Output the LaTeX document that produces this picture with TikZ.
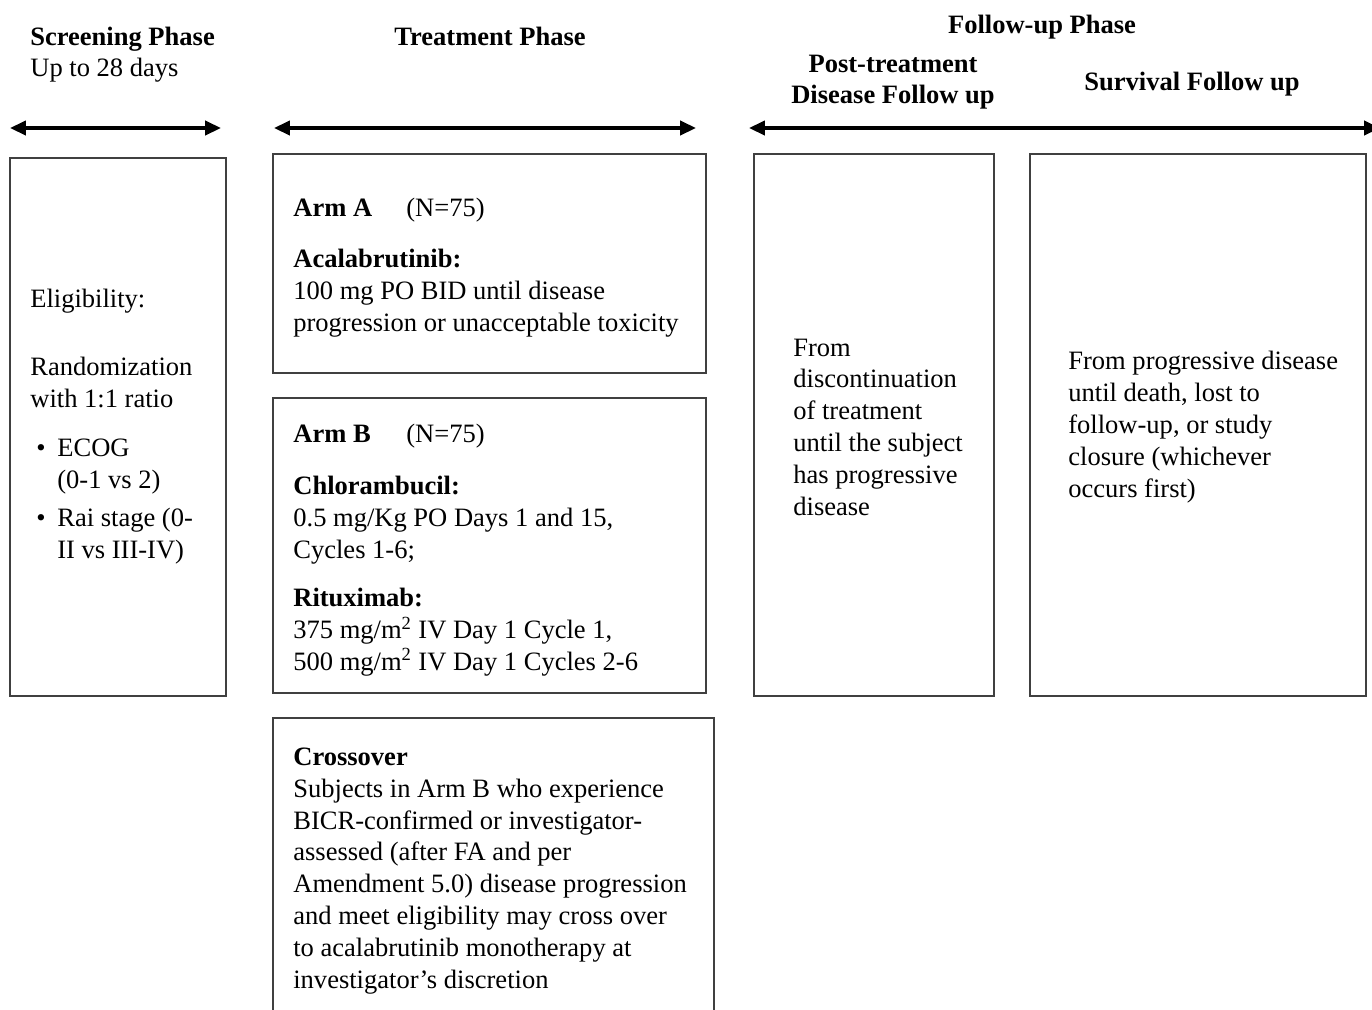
\documentclass[tikz,border=0pt]{standalone}
\usepackage{fontspec}
\setmainfont{Liberation Serif}
\usetikzlibrary{arrows.meta}
\tikzset{
  txt/.style={font=\fontsize{15.1}{18.1}\selectfont, align=left, anchor=base west, inner sep=0pt},
  hd/.style={font=\fontsize{15.1}{17.2}\selectfont\bfseries, align=center, anchor=base, inner sep=0pt},
  box/.style={draw=black!75, line width=0.8pt},
  span/.style={line width=1.9pt, {Triangle[length=9pt,width=8pt]}-{Triangle[length=9pt,width=8pt]}},
}

\begin{document}
\begin{tikzpicture}[x=0.02cm, y=-0.02cm]
  \useasboundingbox (0,0) rectangle (1372,1009);
  % headings
  \node[txt, font=\fontsize{15.1}{18.1}\selectfont\bfseries] (scrhead) at (30,45) {Screening Phase};
  \node[txt] (scrdays) at (30,76) {Up to 28 days};
  \node[hd] (trthead) at (490,45) {Treatment Phase};
  \node[hd] (fuphead) at (1042,33) {Follow-up Phase};
  \node[hd] (posthead) at (893,103) {Post-treatment\\Disease Follow up};
  \node[hd] (survhead) at (1192,90) {Survival Follow up};
  % spans
  \coordinate (scrL) at (10,128);
  \coordinate (scrR) at (221,128);
  \coordinate (trtL) at (274,128);
  \coordinate (trtR) at (696,128);
  \coordinate (fupL) at (749,128);
  \coordinate (fupR) at (1380,128);
  \draw[span] (scrL) -- (scrR);
  \draw[span] (trtL) -- (trtR);
  \draw[span] (fupL) -- (fupR);
  % boxes
  \draw[box] (10,158) rectangle (226,696);
  \draw[box] (273,154) rectangle (706,373);
  \draw[box] (273,398) rectangle (706,693);
  \draw[box] (273,1015) -- (273,718) -- (714,718) -- (714,1015);
  \draw[box] (754,154) rectangle (994,696);
  \draw[box] (1030,154) rectangle (1366,696);
  % screening (base = last line)
  \node[txt] (elig) at (30,307) {Eligibility:};
  \node[txt] (rand) at (30,407) {Randomization\\with 1:1 ratio};
  \node[txt] (bul1) at (36,456) {\textbullet};
  \node[txt] (ecog) at (57,488) {ECOG\\(0-1 vs 2)};
  \node[txt] (bul2) at (36,526) {\textbullet};
  \node[txt] (rai) at (57,558) {Rai stage (0-\\II vs III-IV)};
  % arm A
  \node[txt] (armA) at (293,216) {\textbf{Arm A}};
  \node[txt] (nA) at (406,216) {(N=75)};
  \node[txt] (acala) at (293,331) {\textbf{Acalabrutinib:}\\100 mg PO BID until disease\\progression or unacceptable toxicity};
  % arm B
  \node[txt] (armB) at (293,442) {\textbf{Arm B}};
  \node[txt] (nB) at (406,442) {(N=75)};
  \node[txt] (chlor) at (293,558) {\textbf{Chlorambucil:}\\0.5 mg/Kg PO Days 1 and 15,\\Cycles 1-6;};
  \node[txt] (ritux) at (293,670) {\textbf{Rituximab:}\\375 mg/m\textsuperscript{2} IV Day 1 Cycle 1,\\500 mg/m\textsuperscript{2} IV Day 1 Cycles 2-6};
  % crossover
  \node[txt] (cross) at (293,988) {\textbf{Crossover}\\Subjects in Arm B who experience\\BICR-confirmed or investigator-\\assessed (after FA and per\\Amendment 5.0) disease progression\\and meet eligibility may cross over\\to acalabrutinib monotherapy at\\investigator's discretion};
  % follow-up
  \node[txt] (post) at (793,515) {From\\discontinuation\\of treatment\\until the subject\\has progressive\\disease};
  \node[txt] (surv) at (1068,497) {From progressive disease\\until death, lost to\\follow-up, or study\\closure (whichever\\occurs first)};
\end{tikzpicture}
\end{document}
